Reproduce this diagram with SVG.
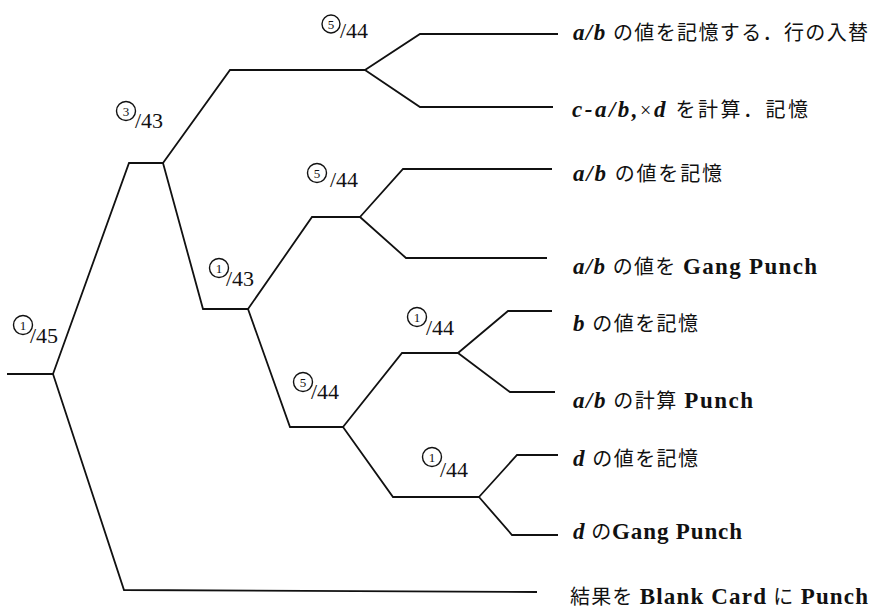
<svg xmlns="http://www.w3.org/2000/svg" width="873" height="610" viewBox="0 0 873 610">
<style>
.ln{fill:none;stroke:#111;stroke-width:1.8;stroke-linejoin:miter}
.lbl{font-family:"Liberation Serif",serif;font-size:22px;fill:#111}
.cd{font-family:"Liberation Serif",serif;font-size:13px;text-anchor:middle;fill:#111}
.cc{fill:none;stroke:#111;stroke-width:1.4}
.jp{font-family:"Liberation Serif","Noto Sans CJK JP",serif;font-size:20px;fill:#111}
.v{font-style:italic;font-weight:bold;font-size:23px}
.b{font-weight:bold;font-size:23px}
</style>
<rect width="873" height="610" fill="#fff"/>
<g id="connectors">
<path class="ln" d="M7,374 H53"/>
<path class="ln" d="M53,374 L129,163 H163"/>
<path class="ln" d="M53,374 L124,590 L537,592"/>
<path class="ln" d="M163,163 L230,70 H365"/>
<path class="ln" d="M163,163 L203,309 H248"/>
<path class="ln" d="M365,70 L420,34 H558"/>
<path class="ln" d="M365,70 L420,107 H553"/>
<path class="ln" d="M248,309 L312,217 H360"/>
<path class="ln" d="M360,217 L403,169 H552"/>
<path class="ln" d="M360,217 L406,258 H547"/>
<path class="ln" d="M248,309 L290,427 H343"/>
<path class="ln" d="M343,427 L402,353 H458"/>
<path class="ln" d="M458,353 L508,311 H552"/>
<path class="ln" d="M458,353 L510,392 H555"/>
<path class="ln" d="M343,427 L393,497 H479"/>
<path class="ln" d="M479,497 L517,455 H558"/>
<path class="ln" d="M479,497 L512,535 H558"/>
</g>
<g id="labels">
<g id="lbl-5-44-top"><circle class="cc" cx="331" cy="24" r="9"/><text class="cd" x="331" y="28.5">5</text><text class="lbl" x="340" y="38">/44</text></g>
<g id="lbl-3-43"><circle class="cc" cx="126" cy="111" r="9.5"/><text class="cd" x="126" y="115.5">3</text><text class="lbl" x="135" y="128">/43</text></g>
<g id="lbl-5-44-mid"><circle class="cc" cx="317" cy="173" r="9.5"/><text class="cd" x="317" y="177.5">5</text><text class="lbl" x="330" y="187">/44</text></g>
<g id="lbl-1-43"><circle class="cc" cx="219" cy="268" r="9.5"/><text class="cd" x="219" y="272.5">1</text><text class="lbl" x="226" y="286">/43</text></g>
<g id="lbl-1-45"><circle class="cc" cx="23" cy="325" r="9.5"/><text class="cd" x="23" y="329.5">1</text><text class="lbl" x="30" y="343">/45</text></g>
<g id="lbl-5-44-low"><circle class="cc" cx="303" cy="382" r="9.5"/><text class="cd" x="303" y="386.5">5</text><text class="lbl" x="311" y="399">/44</text></g>
<g id="lbl-1-44-a"><circle class="cc" cx="417" cy="317" r="9.5"/><text class="cd" x="417" y="321.5">1</text><text class="lbl" x="426" y="335">/44</text></g>
<g id="lbl-1-44-b"><circle class="cc" cx="432" cy="457" r="9.5"/><text class="cd" x="432" y="461.5">1</text><text class="lbl" x="440" y="477">/44</text></g>
</g>
<g id="leaf1"><text class="jp" x="573" y="40" textLength="295" lengthAdjust="spacing"><tspan class="v">a/b</tspan> の値を記憶する．行の入替</text></g>
<g id="leaf2"><text class="jp" x="572" y="117" textLength="236" lengthAdjust="spacing"><tspan class="v">c-a/b,</tspan>×<tspan class="v">d</tspan> を計算．記憶</text></g>
<g id="leaf3"><text class="jp" x="573" y="181" textLength="149" lengthAdjust="spacing"><tspan class="v">a/b</tspan> の値を記憶</text></g>
<g id="leaf4"><text class="jp" x="573" y="274" textLength="244" lengthAdjust="spacing"><tspan class="v">a/b</tspan> の値を <tspan class="b">Gang Punch</tspan></text></g>
<g id="leaf5"><text class="jp" x="573" y="331" textLength="125" lengthAdjust="spacing"><tspan class="v">b</tspan> の値を記憶</text></g>
<g id="leaf6"><text class="jp" x="573" y="408" textLength="180" lengthAdjust="spacing"><tspan class="v">a/b</tspan> の計算 <tspan class="b">Punch</tspan></text></g>
<g id="leaf7"><text class="jp" x="573" y="466" textLength="125" lengthAdjust="spacing"><tspan class="v">d</tspan> の値を記憶</text></g>
<g id="leaf8"><text class="jp" x="573" y="539" textLength="169" lengthAdjust="spacing"><tspan class="v">d</tspan> の<tspan class="b">Gang Punch</tspan></text></g>
<g id="leaf9"><text class="jp" x="570" y="604" textLength="298" lengthAdjust="spacing">結果を <tspan class="b">Blank Card</tspan> に <tspan class="b">Punch</tspan></text></g>
</svg>
